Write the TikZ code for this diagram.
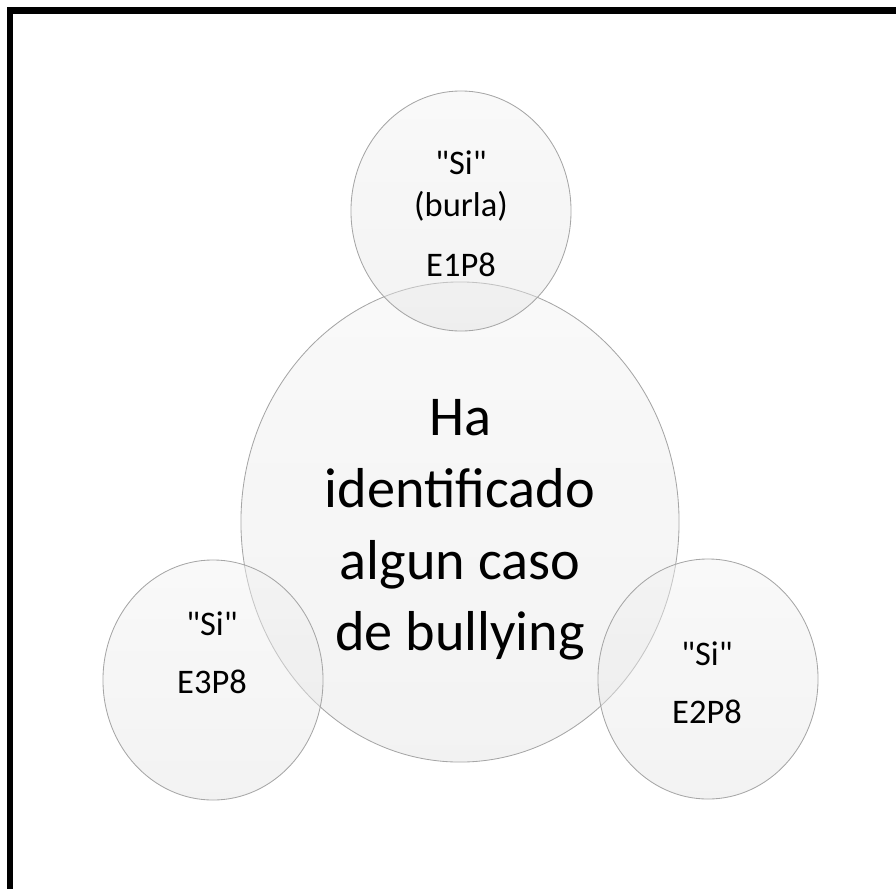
\documentclass[tikz,border=0pt]{standalone}
\usepackage{fontspec}
\setmainfont{Carlito}[Ligatures=TeXOff]
\usetikzlibrary{shapes.geometric}
\tikzset{
  bubble/.style={ellipse,draw=gray!70,line width=0.6pt,top color=gray!10,bottom color=gray!22,fill opacity=0.45,inner sep=0pt},
  smallbubble/.style={bubble,minimum width=5.5cm,minimum height=6cm},
  bigtext/.style={align=center,font=\fontsize{40}{51}\selectfont},
  smalltext/.style={align=center,font=\fontsize{24.5}{30}\selectfont},
}
\begin{document}
\begin{tikzpicture}[x=0.025cm,y=-0.025cm]
    \useasboundingbox (0,0) rectangle (896,889);
    %% frame
    \draw[line width=4.6pt] (10,889) -- (10,10.5) -- (896,10.5);
    %% bubbles
    \node[bubble,minimum width=10.95cm,minimum height=12cm] (C) at (460,522) {};
    \node[smallbubble] (T) at (461,211) {};
    \node[smallbubble] (L) at (213,680) {};
    \node[smallbubble] (R) at (708,679) {};
    %% texts
    \node[bigtext] (Ctext) at (460,530) {Ha\\identificado\\algun caso\\de bullying};
    \node[smalltext] (Ttext) at (461,214) {"Si"\\(burla)\\[0.45cm]E1P8};
    \node[smalltext] (Ltext) at (212,653) {"Si"\\[0.4cm]E3P8};
    \node[smalltext] (Rtext) at (707,683) {"Si"\\[0.4cm]E2P8};
\end{tikzpicture}
\end{document}
